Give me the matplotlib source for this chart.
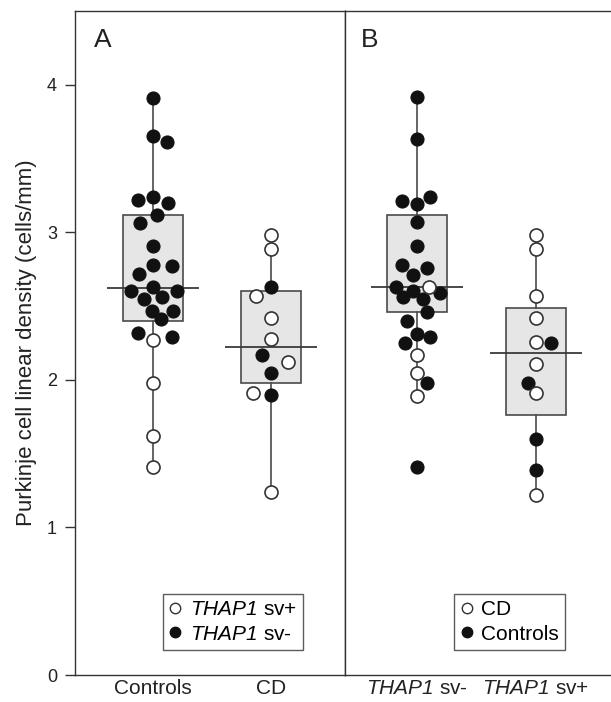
import matplotlib
matplotlib.use("Agg")
import matplotlib.pyplot as plt
from matplotlib.lines import Line2D

plt.rcParams['font.family'] = ['Liberation Sans', 'DejaVu Sans']
plt.rcParams['mathtext.fontset'] = 'custom'
plt.rcParams['mathtext.it'] = 'Liberation Sans:italic'
plt.rcParams['mathtext.sf'] = 'Liberation Sans:italic'
plt.rcParams['mathtext.rm'] = 'Liberation Sans'

# ---------------- data ----------------
ylabel = "Purkinje cell linear density (cells/mm)"
cats_a = ["Controls", "CD"]
cats_b = [r"$\mathsf{THAP1}$ sv-", r"$\mathsf{THAP1}$ sv+"]
legend_a = [r"$\mathsf{THAP1}$ sv+", r"$\mathsf{THAP1}$ sv-"]
legend_b = ["CD", "Controls"]

# Panel A, Controls
a_ctrl_filled = [3.91, 3.65, 3.61, 3.24, 3.22, 3.20, 3.12, 3.06, 2.91, 2.78, 2.77,
                 2.72, 2.63, 2.60, 2.60, 2.55, 2.56, 2.47, 2.47, 2.41, 2.32, 2.29]
a_ctrl_filled_dx = [0, 0, 0.12, 0, -0.13, 0.13, 0.03, -0.11, 0, 0, 0.16,
                    -0.12, 0, -0.19, 0.20, -0.08, 0.08, -0.01, 0.17, 0.07, -0.13, 0.16]
a_ctrl_open = [2.27, 1.98, 1.62, 1.41]
a_ctrl_open_dx = [0, 0, 0, 0]
# Panel A, CD
a_cd_filled = [2.63, 2.17, 2.05, 1.90]
a_cd_filled_dx = [0, -0.08, 0, 0]
a_cd_open = [2.98, 2.89, 2.57, 2.42, 2.275, 2.12, 1.91, 1.24]
a_cd_open_dx = [0, 0, -0.13, 0, 0, 0.14, -0.15, 0]
# Panel B, THAP1 sv-
b_neg_filled = [3.92, 3.63, 3.21, 3.19, 3.24, 3.07, 2.91, 2.78, 2.76, 2.71, 2.63,
                2.60, 2.59, 2.56, 2.55, 2.46, 2.40, 2.31, 2.29, 2.25, 1.98, 1.41]
b_neg_filled_dx = [0, 0, -0.13, 0, 0.11, 0, 0, -0.13, 0.08, -0.03, -0.18,
                   -0.03, 0.19, -0.12, 0.05, 0.08, -0.08, 0, 0.11, -0.10, 0.08, 0]
b_neg_open = [2.63, 2.17, 2.05, 1.89]
b_neg_open_dx = [0.10, 0, 0, 0]
# Panel B, THAP1 sv+
b_pos_filled = [2.25, 1.98, 1.60, 1.39]
b_pos_filled_dx = [0.13, -0.07, 0, 0]
b_pos_open = [2.98, 2.89, 2.57, 2.42, 2.26, 2.11, 1.91, 1.22]
b_pos_open_dx = [0, 0, 0, 0, 0, 0, 0, 0]

# box stats: (whisker low, q1, median, q3, whisker high)
box_a = [(1.41, 2.40, 2.62, 3.12, 3.91), (1.24, 1.98, 2.22, 2.60, 2.89)]
box_b = [(1.89, 2.46, 2.63, 3.12, 3.92), (1.22, 1.76, 2.18, 2.49, 2.98)]

# ---------------- plotting ----------------
fig = plt.figure(figsize=(6.11, 7.02), dpi=100)
bot, top = 1 - 675 / 702, 1 - 11 / 702
x0, xm, x1 = 75 / 611, 345 / 611, 1.0
ax1 = fig.add_axes([x0, bot, xm - x0, top - bot])
ax2 = fig.add_axes([xm, bot, x1 - xm, top - bot])

edge = '#4a4a4a'
boxfill = '#e6e6e6'
ms = 88


def draw_boxes(ax, stats):
    bstats = []
    for lo, q1, med, q3, hi in stats:
        bstats.append(dict(whislo=lo, q1=q1, med=med, q3=q3, whishi=hi, fliers=[]))
    ax.bxp(bstats, positions=[1, 2], widths=0.51, showcaps=False, showfliers=False,
           patch_artist=True,
           boxprops=dict(facecolor=boxfill, edgecolor=edge, linewidth=1.2),
           whiskerprops=dict(color=edge, linewidth=1.2),
           medianprops=dict(linewidth=0), zorder=1)
    for i, s in enumerate(stats):
        ax.hlines(s[2], 1 + i - 0.39, 1 + i + 0.39, color='#3a3a3a', linewidth=1.3, zorder=2)


def pts(ax, pos, vals, dx, filled):
    xs = [pos + d for d in dx]
    if filled:
        ax.scatter(xs, vals, s=ms, facecolor='#111111', edgecolor='#111111',
                   linewidth=0.8, zorder=3)
    else:
        ax.scatter(xs, vals, s=ms, facecolor='white', edgecolor='#333333',
                   linewidth=1.2, zorder=4)


draw_boxes(ax1, box_a)
draw_boxes(ax2, box_b)

pts(ax1, 1, a_ctrl_filled, a_ctrl_filled_dx, True)
pts(ax1, 1, a_ctrl_open, a_ctrl_open_dx, False)
pts(ax1, 2, a_cd_filled, a_cd_filled_dx, True)
pts(ax1, 2, a_cd_open, a_cd_open_dx, False)
pts(ax2, 1, b_neg_filled, b_neg_filled_dx, True)
pts(ax2, 1, b_neg_open, b_neg_open_dx, False)
pts(ax2, 2, b_pos_filled, b_pos_filled_dx, True)
pts(ax2, 2, b_pos_open, b_pos_open_dx, False)

ax1.set_xlim(0.339, 2.627)
ax2.set_xlim(0.395, 2.605 + 3 / 119)
for ax in (ax1, ax2):
    ax.set_ylim(0, 4.5)
    for sp in ax.spines.values():
        sp.set_color('#333333')
        sp.set_linewidth(1.0)
    ax.tick_params(axis='x', length=0, labelsize=15, pad=3, colors='#222222')
ax2.spines['right'].set_visible(False)

ax1.set_xticks([1, 2], cats_a)
ax2.set_xticks([1, 2], cats_b)
ax1.set_yticks([0, 1, 2, 3, 4])
ax1.tick_params(axis='y', length=7, width=1, labelsize=13, colors='#333333',
                labelcolor='#222222', pad=6)
ax2.set_yticks([])
ax1.set_ylabel(ylabel, fontsize=16, color='#222222', labelpad=7)

ax1.text(0.07, 0.975, "A", transform=ax1.transAxes, fontsize=19, va='top', ha='left',
         color='#222222')
ax2.text(0.06, 0.975, "B", transform=ax2.transAxes, fontsize=19, va='top', ha='left',
         color='#222222')


def handles():
    return [Line2D([], [], marker='o', linestyle='', markersize=7.5,
                   markerfacecolor='white', markeredgecolor='#333333', markeredgewidth=1.0),
            Line2D([], [], marker='o', linestyle='', markersize=7.5,
                   markerfacecolor='#111111', markeredgecolor='#111111')]


for ax, labs, anchor in ((ax1, legend_a, (0.325, 0.038)), (ax2, legend_b, (0.41, 0.038))):
    leg = ax.legend(handles(), labs, loc='lower left', bbox_to_anchor=anchor,
                    fontsize=15, frameon=True, fancybox=False, handlelength=0.6,
                    handletextpad=0.4, borderpad=0.3, labelspacing=0.25,
                    borderaxespad=0)
    leg.get_frame().set_edgecolor('#333333')
    leg.get_frame().set_linewidth(1.0)

fig.savefig("out.png", dpi=100)
